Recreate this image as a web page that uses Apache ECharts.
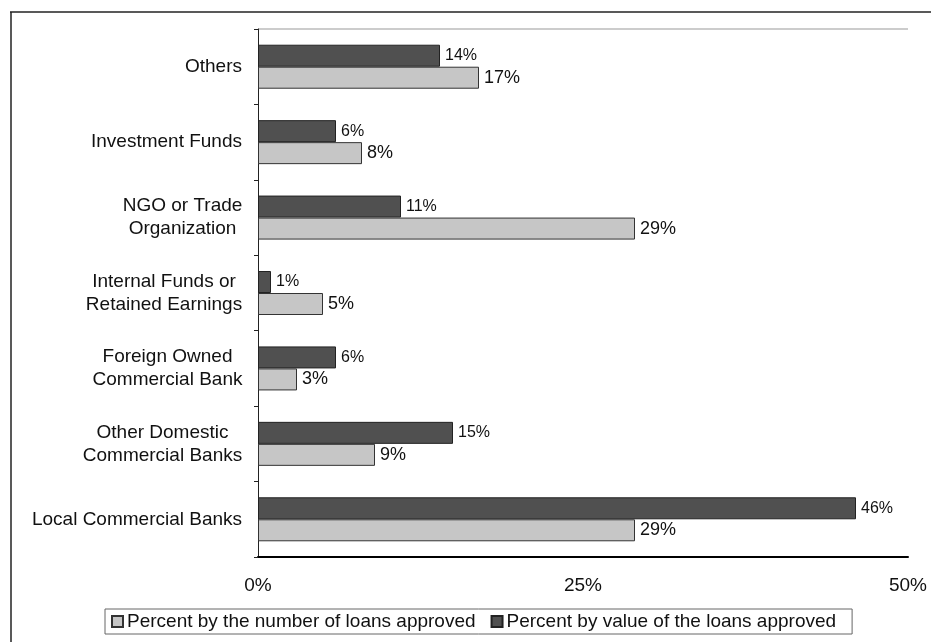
<!DOCTYPE html>
<html>
<head>
<meta charset="utf-8">
<script src="https://cdn.jsdelivr.net/npm/echarts@6/dist/echarts.min.js"></script>
<style>
  html, body { margin: 0; padding: 0; background: #fff; }
  #chart { width: 931px; height: 642px; }
</style>
</head>
<body>
<div id="chart"></div>
<script>
// Loan sources, listed bottom to top
var categories = [
  'Local Commercial Banks',
  'Other Domestic\nCommercial Banks',
  'Foreign Owned\nCommercial Bank',
  'Internal Funds or\nRetained Earnings',
  'NGO or Trade\nOrganization',
  'Investment Funds',
  'Others'
];
var byNumber = [29, 9, 3, 5, 29, 8, 17];
var byValue = [46, 15, 6, 1, 11, 6, 14];
var xTicks = [0, 25, 50];

var seriesNames = [
  'Percent by the number of loans approved',
  'Percent by value of the loans approved'
];

var font = 'Liberation Sans, Arial, sans-serif';
var catFontSize = 19;

// Multi-line category labels are centred line by line inside a box
// as wide as their longest line; the box itself sits right-aligned.
var measureCtx = document.createElement('canvas').getContext('2d');
measureCtx.font = catFontSize + 'px ' + font;
var catRich = {};
categories.forEach(function (name, i) {
  var w = 0;
  name.split('\n').forEach(function (line) {
    w = Math.max(w, measureCtx.measureText(line).width);
  });
  catRich['c' + i] = {
    width: Math.ceil(w) + 1,
    align: 'center',
    fontSize: catFontSize,
    lineHeight: 23,
    color: '#111',
    fontFamily: font
  };
});

var chart = echarts.init(document.getElementById('chart'));

chart.setOption({
  animation: false,
  backgroundColor: '#fff',
  textStyle: { fontFamily: font, color: '#111' },
  grid: { left: 258, right: 23, top: 29, bottom: 85, containLabel: false },
  xAxis: {
    type: 'value',
    min: xTicks[0],
    max: xTicks[xTicks.length - 1],
    interval: xTicks[1] - xTicks[0],
    axisLine: { show: true, lineStyle: { color: '#000', width: 2 } },
    axisTick: { show: false },
    splitLine: { show: false },
    axisLabel: {
      formatter: '{value}%',
      fontSize: 19,
      color: '#111',
      margin: 19,
      fontFamily: font
    }
  },
  yAxis: {
    type: 'category',
    data: categories,
    axisLine: { show: true, lineStyle: { color: '#222', width: 1 } },
    axisTick: { show: true, length: 4, lineStyle: { color: '#222' } },
    axisLabel: {
      fontSize: catFontSize,
      color: '#111',
      margin: 15,
      lineHeight: 23,
      align: 'right',
      fontFamily: font,
      formatter: function (value, idx) {
        var key = 'c' + categories.indexOf(value);
        return value.split('\n').map(function (line) {
          return '{' + key + '|' + line + '}';
        }).join('\n');
      },
      rich: catRich
    }
  },
  legend: {
    data: seriesNames,
    left: 105,
    top: 609,
    orient: 'horizontal',
    borderColor: '#666',
    borderWidth: 1,
    padding: [3, 16, 3, 6],
    itemWidth: 11,
    itemHeight: 11,
    itemGap: 15,
    icon: 'rect',
    textStyle: { fontSize: 19, color: '#111', fontFamily: font, padding: [0, 0, 0, -1] }
  },
  series: [
    {
      name: seriesNames[1],
      type: 'bar',
      data: byValue,
      barWidth: 22,
      barGap: '0%',
      itemStyle: { color: '#505050', borderColor: '#222', borderWidth: 1 },
      label: {
        show: true,
        position: 'right',
        distance: 5,
        formatter: '{c}%',
        fontSize: 16,
        color: '#111',
        fontFamily: font
      }
    },
    {
      name: seriesNames[0],
      type: 'bar',
      data: byNumber,
      barWidth: 22,
      barGap: '0%',
      itemStyle: { color: '#c6c6c6', borderColor: '#333', borderWidth: 1 },
      label: {
        show: true,
        position: 'right',
        distance: 5,
        formatter: '{c}%',
        fontSize: 18,
        color: '#111',
        fontFamily: font
      }
    }
  ],
  graphic: [
    // outer frame (top and left edges)
    { type: 'line', shape: { x1: 10, y1: 12, x2: 931, y2: 12 }, style: { stroke: '#222', lineWidth: 1.5 } },
    { type: 'line', shape: { x1: 11, y1: 12, x2: 11, y2: 642 }, style: { stroke: '#222', lineWidth: 1.5 } },
    // faint top edge of the plot area
    { type: 'line', shape: { x1: 258, y1: 29, x2: 908, y2: 29 }, style: { stroke: '#999', lineWidth: 1 } }
  ]
});
</script>
</body>
</html>
